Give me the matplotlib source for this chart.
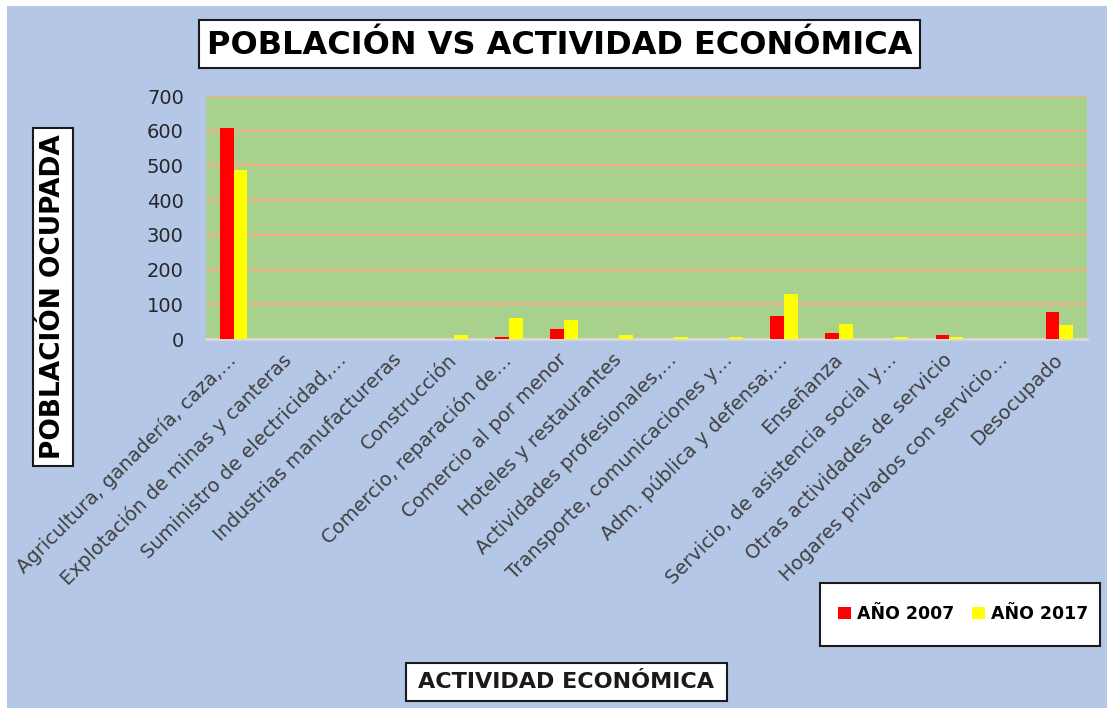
import matplotlib
matplotlib.use("Agg")
import matplotlib.pyplot as plt
from matplotlib.patches import Rectangle
import numpy as np

# ---- data ----
categories = [
    "Agricultura, ganadería, caza,…",
    "Explotación de minas y canteras",
    "Suministro de electricidad,…",
    "Industrias manufactureras",
    "Construcción",
    "Comercio, reparación de…",
    "Comercio al por menor",
    "Hoteles y restaurantes",
    "Actividades profesionales,…",
    "Transporte, comunicaciones y…",
    "Adm. pública y defensa;…",
    "Enseñanza",
    "Servicio, de asistencia social y…",
    "Otras actividades de servicio",
    "Hogares privados con servicio…",
    "Desocupado",
]
anio_2007 = [608, 0, 0, 0, 0, 6, 28, 0, 0, 0, 67, 17, 0, 12, 0, 77]
anio_2017 = [488, 0, 0, 0, 12, 60, 55, 11, 6, 6, 131, 44, 6, 6, 0, 39]
series_labels = ["AÑO 2007", "AÑO 2017"]
y_ticks = [0, 100, 200, 300, 400, 500, 600, 700]
title = "POBLACIÓN VS ACTIVIDAD ECONÓMICA"
y_title = "POBLACIÓN OCUPADA"
x_title = "ACTIVIDAD ECONÓMICA"

W, H = 1107, 708
fig = plt.figure(figsize=(W / 100, H / 100), dpi=100, facecolor="white")


def rect_px(x0, y0, x1, y1):
    return [x0 / W, 1 - y1 / H, (x1 - x0) / W, (y1 - y0) / H]


def box(x0, y0, x1, y1, z=2):
    fig.patches.append(Rectangle((x0 / W, 1 - y1 / H), (x1 - x0) / W, (y1 - y0) / H,
                                 transform=fig.transFigure, facecolor="white",
                                 edgecolor="#1a1a1a", lw=1.5, zorder=z))


# panel background
fig.patches.append(Rectangle((7 / W, 0), 1 - 7 / W, 1 - 6 / H, transform=fig.transFigure,
                             facecolor="#B4C7E7", edgecolor="none", zorder=-5))

ax = fig.add_axes(rect_px(206, 96, 1087, 339))
ax.set_zorder(1)
ax.set_facecolor("#A9D18E")
x = np.arange(len(categories))
bw = 0.25
b1 = ax.bar(x - bw / 2, anio_2007, bw, color="#FF0000", label=series_labels[0], zorder=3)
b2 = ax.bar(x + bw / 2, anio_2017, bw, color="#FFFF00", label=series_labels[1], zorder=3)
ax.set_xlim(-0.5, len(categories) - 0.5)
ax.set_ylim(0, 700)
ax.set_yticks(y_ticks)
ax.yaxis.grid(True, color="#F4B183", lw=1.6)
ax.set_axisbelow(True)
for s in ["top", "right", "left"]:
    ax.spines[s].set_visible(False)
ax.spines["bottom"].set_color("#D9D9D9")
ax.spines["bottom"].set_linewidth(2)
ax.spines["bottom"].set_zorder(2.5)
ax.tick_params(axis="y", length=0, labelsize=14, labelcolor="#262626", pad=16)
ax.tick_params(axis="x", length=0, labelsize=14, labelcolor="#404040", pad=13)
ax.set_xticks(x)
ax.set_xticklabels(categories)
for lab in ax.get_xticklabels():
    lab.set_rotation(45)
    lab.set_ha("right")
    lab.set_va("center")
    lab.set_rotation_mode("anchor")

# title box
box(199, 20, 920, 68)
fig.text(559.5 / W, 1 - 45 / H, title, ha="center", va="center", fontsize=23, fontweight="bold",
         color="black", zorder=3)

# y title box
box(33, 128, 73, 466)
fig.text(53 / W, 1 - 297 / H, y_title, ha="center", va="center", rotation=90, fontsize=19,
         fontweight="bold", color="black", zorder=3)

# x title box
box(406, 663, 727, 701)
fig.text(566.5 / W, 1 - 682 / H, x_title, ha="center", va="center", fontsize=16,
         fontweight="bold", color="#1a1a1a", zorder=3)

# legend box + legend
box(820, 583, 1100, 646)
leg = fig.legend(handles=[b1, b2], loc="center", bbox_to_anchor=(963 / W, 1 - 614 / H), ncol=2,
                 frameon=False, prop={"size": 12.5, "weight": "bold"},
                 handlelength=0.75, handleheight=0.75, handletextpad=0.35,
                 columnspacing=1.0, borderpad=0.5)
leg.set_zorder(4)

fig.savefig("out.png", dpi=100, facecolor=fig.get_facecolor())
